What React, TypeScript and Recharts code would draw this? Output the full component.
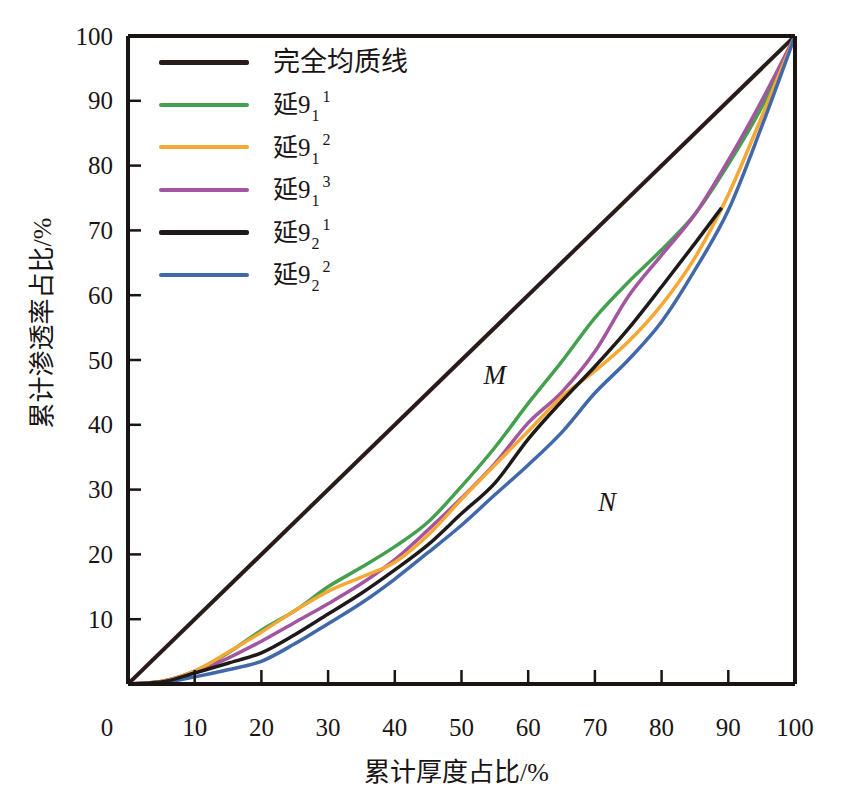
import React from 'react';
import { LineChart, Line, XAxis, YAxis, ReferenceDot } from 'recharts';

// ---- data ----
const thickness = [0, 5, 10, 15, 20, 25, 30, 35, 40, 45, 50, 55, 60, 65, 70, 75, 80, 85, 90, 95, 100];
const thicknessY921 = [0, 5, 10, 15, 20, 25, 30, 35, 40, 45, 50, 55, 60, 65, 70, 75, 80, 85, 89];
const homogeneousX = [0, 100];
const homogeneousY = [0, 100];
const y911 = [0, 0.4, 2.0, 4.8, 8.3, 11.3, 15.0, 18.0, 21.2, 25.0, 30.5, 36.5, 43.3, 49.7, 56.5, 62.0, 67.0, 72.5, 80.2, 89.0, 100];
const y912 = [0, 0.4, 2.0, 4.9, 8.0, 11.3, 14.3, 16.5, 18.8, 23.0, 28.5, 33.8, 39.0, 44.3, 48.3, 52.8, 58.5, 65.8, 75.5, 87.5, 100];
const y913 = [0, 0.4, 1.9, 4.0, 6.6, 9.5, 12.4, 15.5, 19.2, 23.8, 28.7, 34.0, 40.3, 45.0, 51.3, 59.8, 66.2, 72.5, 80.8, 90.0, 100];
const y921 = [0, 0.3, 1.7, 3.2, 4.8, 7.6, 10.8, 14.0, 17.6, 21.5, 26.3, 31.0, 37.8, 43.6, 49.0, 54.8, 61.3, 68.0, 73.5];
const y922 = [0, 0.2, 1.1, 2.2, 3.5, 6.2, 9.3, 12.5, 16.2, 20.3, 24.5, 29.2, 33.8, 38.8, 44.9, 50.0, 55.9, 63.9, 73.1, 86.0, 100];
const xTicks = [0, 10, 20, 30, 40, 50, 60, 70, 80, 90, 100];
const yTicks = [10, 20, 30, 40, 50, 60, 70, 80, 90, 100];
const xLabel = '累计厚度占比/%';
const yLabel = '累计渗透率占比/%';
const regionLabels = [
  { x: 55, y: 47.7, text: 'M' },
  { x: 71.8, y: 28.1, text: 'N' },
];

const toPoints = (xs: number[], ys: number[]) => xs.map((x, i) => ({ x, y: ys[i] }));

type Series = { key: string; base: string; sub?: string; sup?: string; color: string; width: number; data: { x: number; y: number }[] };

const series: Series[] = [
  { key: 'h', base: '完全均质线', color: '#2a1b1b', width: 4, data: toPoints(homogeneousX, homogeneousY) },
  { key: 's911', base: '延9', sub: '1', sup: '1', color: '#44a04f', width: 3.5, data: toPoints(thickness, y911) },
  { key: 's912', base: '延9', sub: '1', sup: '2', color: '#f5a834', width: 3.5, data: toPoints(thickness, y912) },
  { key: 's913', base: '延9', sub: '1', sup: '3', color: '#a4559f', width: 3.5, data: toPoints(thickness, y913) },
  { key: 's921', base: '延9', sub: '2', sup: '1', color: '#1e1a1a', width: 3.5, data: toPoints(thicknessY921, y921) },
  { key: 's922', base: '延9', sub: '2', sup: '2', color: '#4169aa', width: 3.5, data: toPoints(thickness, y922) },
];
const drawOrder = ['h', 's911', 's913', 's912', 's922', 's921'];

const FONT = "'Liberation Serif','Noto Sans CJK SC',serif";
const INK = '#1a1414';

const XTick = (props: any) => {
  const { x, y, payload } = props;
  return (
    <text x={x + (payload.value === 0 ? -21 : 0)} y={y} textAnchor="middle" dominantBaseline="central" fontFamily={FONT} fontSize={25} fill={INK}>
      {payload.value}
    </text>
  );
};

const YTick = (props: any) => {
  const { x, y, payload } = props;
  return (
    <text x={x} y={y} textAnchor="end" dominantBaseline="central" fontFamily={FONT} fontSize={25} fill={INK}>
      {payload.value}
    </text>
  );
};

const LegendBox = () => (
  <div style={{ fontFamily: FONT, color: INK }}>
    {series.map((s) => (
      <div key={s.key} style={{ display: 'flex', alignItems: 'center', height: 42.5 }}>
        <div style={{ width: 90, height: s.key === 'h' || s.key === 's921' ? 4.5 : 4, background: s.color, borderRadius: 2, marginRight: 24 }} />
        <div style={{ fontSize: s.sub ? 25 : 27, lineHeight: 1, whiteSpace: 'nowrap' }}>
          {s.base}
          {s.sub && (
            <span style={{ display: 'inline-block', fontSize: 16, position: 'relative', top: 8, marginLeft: 1 }}>{s.sub}</span>
          )}
          {s.sup && (
            <span style={{ display: 'inline-block', fontSize: 16, position: 'relative', top: -11, marginLeft: 3 }}>{s.sup}</span>
          )}
        </div>
      </div>
    ))}
  </div>
);

export default function App() {
  const byKey: Record<string, Series> = {};
  series.forEach((s) => (byKey[s.key] = s));
  return (
    <div style={{ position: 'relative', width: 837, height: 790 }}>
      <LineChart width={837} height={790} margin={{ top: 27, right: 49, bottom: 113, left: 119 }}>
        <XAxis
          xAxisId="b"
          type="number"
          dataKey="x"
          domain={[0, 100]}
          ticks={xTicks}
          allowDataOverflow
          height={1}
          interval={0}
          tickSize={-14}
          tickMargin={57}
          tick={<XTick />}
          axisLine={{ stroke: INK, strokeWidth: 4 }}
          tickLine={{ stroke: INK, strokeWidth: 2.5 }}
          label={{
            content: (p: any) => {
              const vb = p.viewBox || { x: 120, y: 676, width: 667 };
              return (
                <text x={vb.x + vb.width / 2 - 5} y={vb.y + 88} textAnchor="middle" dominantBaseline="central" fontFamily={FONT} fontSize={26} fill={INK}>
                  {xLabel}
                </text>
              );
            },
          }}
        />
        <XAxis xAxisId="t" orientation="top" type="number" dataKey="x" domain={[0, 100]} height={1} tick={false} tickLine={false} axisLine={{ stroke: INK, strokeWidth: 4 }} />
        <YAxis
          yAxisId="l"
          type="number"
          domain={[0, 100]}
          ticks={yTicks}
          allowDataOverflow
          width={1}
          interval={0}
          tickSize={-13}
          tickMargin={28}
          tick={<YTick />}
          axisLine={{ stroke: INK, strokeWidth: 4 }}
          tickLine={{ stroke: INK, strokeWidth: 2.5 }}
          label={{
            content: (p: any) => {
              const vb = p.viewBox || { x: 119, y: 28, width: 1, height: 648 };
              const cx = vb.x + vb.width - 85.5;
              const cy = vb.y + vb.height / 2 - 37;
              return (
                <text x={cx} y={cy} textAnchor="middle" dominantBaseline="central" transform={`rotate(-90, ${cx}, ${cy})`} fontFamily={FONT} fontSize={26} fill={INK}>
                  {yLabel}
                </text>
              );
            },
          }}
        />
        <YAxis yAxisId="r" orientation="right" type="number" domain={[0, 100]} width={1} tick={false} tickLine={false} axisLine={{ stroke: INK, strokeWidth: 4 }} />
        {drawOrder.map((k) => {
          const s = byKey[k];
          return (
            <Line
              key={s.key}
              xAxisId="b"
              yAxisId="l"
              data={s.data}
              dataKey="y"
              name={s.key}
              type={s.key === 'h' ? 'linear' : 'monotone'}
              stroke={s.color}
              strokeWidth={s.width}
              dot={false}
              activeDot={false}
              isAnimationActive={false}
              strokeLinejoin="round"
            />
          );
        })}
        {regionLabels.map((r) => (
          <ReferenceDot
            key={r.text}
            xAxisId="b"
            yAxisId="l"
            x={r.x}
            y={r.y}
            r={0}
            fill="none"
            stroke="none"
            label={{ value: r.text, position: 'center', fontFamily: FONT, fontStyle: 'italic', fontSize: 27, fill: INK }}
          />
        ))}
      </LineChart>
      <div style={{ position: 'absolute', left: 151, top: 33 }}>
        <LegendBox />
      </div>
    </div>
  );
}
